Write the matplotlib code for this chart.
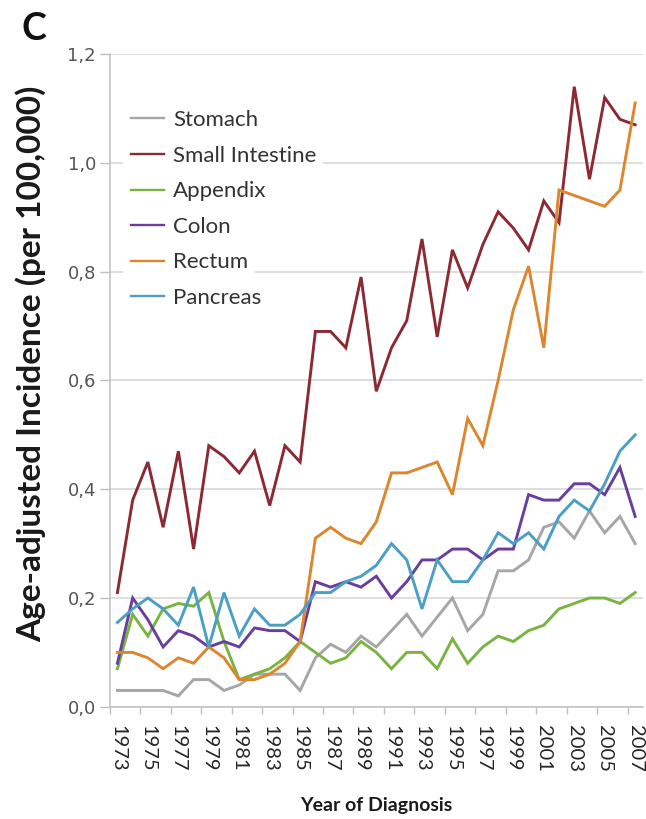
import matplotlib
matplotlib.use("Agg")
import matplotlib.pyplot as plt
from matplotlib.patches import Rectangle
from matplotlib.ticker import FuncFormatter, FixedLocator
import numpy as np

years = list(range(1973, 2008))

stomach = [0.03, 0.03, 0.03, 0.03, 0.02, 0.05, 0.05, 0.03, 0.04, 0.06,
           0.06, 0.06, 0.03, 0.09, 0.115, 0.10, 0.13, 0.11, 0.14, 0.17,
           0.13, 0.165, 0.20, 0.14, 0.17, 0.25, 0.25, 0.27, 0.33, 0.34,
           0.31, 0.36, 0.32, 0.35, 0.30]
small_intestine = [0.21, 0.38, 0.45, 0.33, 0.47, 0.29, 0.48, 0.46, 0.43, 0.47,
                   0.37, 0.48, 0.45, 0.69, 0.69, 0.66, 0.79, 0.58, 0.66, 0.71,
                   0.86, 0.68, 0.84, 0.77, 0.85, 0.91, 0.88, 0.84, 0.93, 0.89,
                   1.14, 0.97, 1.12, 1.08, 1.07]
appendix = [0.07, 0.17, 0.13, 0.18, 0.19, 0.185, 0.21, 0.12, 0.05, 0.06,
            0.07, 0.09, 0.12, 0.10, 0.08, 0.09, 0.12, 0.10, 0.07, 0.10,
            0.10, 0.07, 0.125, 0.08, 0.11, 0.13, 0.12, 0.14, 0.15, 0.18,
            0.19, 0.20, 0.20, 0.19, 0.21]
colon = [0.08, 0.20, 0.16, 0.11, 0.14, 0.13, 0.11, 0.12, 0.11, 0.145,
         0.14, 0.14, 0.12, 0.23, 0.22, 0.23, 0.22, 0.24, 0.20, 0.23,
         0.27, 0.27, 0.29, 0.29, 0.27, 0.29, 0.29, 0.39, 0.38, 0.38,
         0.41, 0.41, 0.39, 0.44, 0.35]
rectum = [0.10, 0.10, 0.09, 0.07, 0.09, 0.08, 0.11, 0.09, 0.05, 0.05,
          0.06, 0.08, 0.12, 0.31, 0.33, 0.31, 0.30, 0.34, 0.43, 0.43,
          0.44, 0.45, 0.39, 0.53, 0.48, 0.60, 0.73, 0.81, 0.66, 0.95,
          0.94, 0.93, 0.92, 0.95, 1.11]
pancreas = [0.155, 0.18, 0.20, 0.18, 0.15, 0.22, 0.11, 0.21, 0.13, 0.18,
            0.15, 0.15, 0.17, 0.21, 0.21, 0.23, 0.24, 0.26, 0.30, 0.27,
            0.18, 0.27, 0.23, 0.23, 0.27, 0.32, 0.30, 0.32, 0.29, 0.35,
            0.38, 0.36, 0.41, 0.47, 0.50]

series = [
    ("Stomach", stomach, "#a6a6a6"),
    ("Small Intestine", small_intestine, "#8c2a34"),
    ("Appendix", appendix, "#79b443"),
    ("Colon", colon, "#6a3f9c"),
    ("Rectum", rectum, "#dc872e"),
    ("Pancreas", pancreas, "#4b9fc4"),
]

txt_font = ["Lato", "DejaVu Sans"]

fig = plt.figure(figsize=(6.46, 8.19), dpi=100)
ax = fig.add_axes([0.170, 0.137, 0.825, 0.797])

x = np.arange(len(years))
for name, vals, col in series:
    ax.plot(x, vals, color=col, lw=2.1, label=name, zorder=3,
            solid_joinstyle="miter")

ax.set_xlim(-0.5, len(years) - 0.5)
ax.set_ylim(0, 1.2)
ax.set_yticks(np.arange(0, 1.21, 0.2))
ax.yaxis.set_major_formatter(FuncFormatter(lambda v, p: f"{v:.1f}".replace(".", ",")))

ax.set_xticks(x[::2])
ax.set_xticklabels([str(y) for y in years[::2]], rotation=-90,
                   family=txt_font, fontsize=14.5, color="#262626")
ax.xaxis.set_minor_locator(FixedLocator(np.arange(-0.5, len(years), 2)))
ax.tick_params(axis="x", which="major", length=0, pad=13)
ax.tick_params(axis="x", which="minor", length=5, color="#bfbfbf", width=1)
ax.tick_params(axis="y", length=7, color="#bfbfbf", width=1,
               labelsize=13, labelcolor="#555555", pad=3)

ax.grid(axis="y", color="#d4d4d4", lw=1.1, zorder=0)
ax.set_axisbelow(True)
for s in ("top", "right"):
    ax.spines[s].set_visible(False)
for s in ("left", "bottom"):
    ax.spines[s].set_color("#bfbfbf")
    ax.spines[s].set_linewidth(1.1)

ax.set_ylabel("Age-adjusted Incidence (per 100,000)", family=txt_font,
              fontweight="bold", fontsize=24, color="#1a1a1a")
ax.yaxis.set_label_coords(-0.119, 0.525)
ax.set_xlabel("Year of Diagnosis", family=txt_font, fontweight="bold",
              fontsize=14, color="#1a1a1a", labelpad=18)

leg = ax.legend(loc="upper left", bbox_to_anchor=(0.039, 0.914), frameon=False,
                prop={"family": txt_font, "size": 16}, handlelength=1.5,
                handletextpad=0.4, labelspacing=0.7, borderaxespad=0,
                borderpad=0)
for h in leg.get_lines():
    h.set_linewidth(1.7)
for t in leg.get_texts():
    t.set_color("#333333")

fig.text(0.034, 0.965, "C", family=txt_font, fontweight="bold", fontsize=27,
         va="center", ha="left", color="#111111")

# white strips behind each legend entry so the gridlines stop there
fig.canvas.draw()
inv = ax.transAxes.inverted()
x0 = inv.transform((ax.transAxes.transform((0, 0))[0] + 13, 0))[0]
for t in leg.get_texts():
    bb = t.get_window_extent()
    (ax0, ay0) = inv.transform((bb.x0, bb.y0 - 4))
    (ax1, ay1) = inv.transform((bb.x1 + 7, bb.y1 + 4))
    ax.add_patch(Rectangle((x0, ay0), ax1 - x0, ay1 - ay0, transform=ax.transAxes,
                           facecolor="white", edgecolor="none", zorder=1,
                           clip_on=False))

fig.savefig("out.png", dpi=100, facecolor="white")
